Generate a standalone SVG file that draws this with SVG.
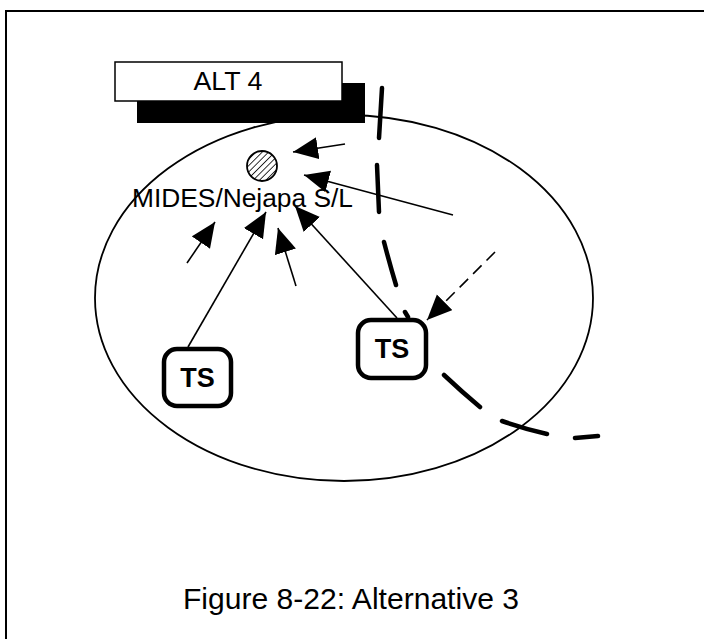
<svg xmlns="http://www.w3.org/2000/svg" width="704" height="639" viewBox="0 0 704 639">
<style>
.t{font-family:"Liberation Sans",Arial,sans-serif;fill:#000}
.arr{stroke:#000;stroke-width:1.6;fill:none;marker-end:url(#ah)}
.ts{fill:#fff;stroke:#000;stroke-width:4.5}
</style>
<defs>
<marker id="ah" markerUnits="userSpaceOnUse" markerWidth="27" markerHeight="24" refX="25" refY="11" orient="auto">
<path d="M0,0 L25,11 L0,22 z" fill="#000"/>
</marker>
<pattern id="hatch" patternUnits="userSpaceOnUse" width="4.5" height="4.5" patternTransform="rotate(45)">
<rect width="4.5" height="4.5" fill="#fff"/>
<line x1="0" y1="0" x2="0" y2="4.5" stroke="#000" stroke-width="1.6"/>
</pattern>
</defs>
<rect x="6" y="11" width="720" height="660" fill="#fff" stroke="#000" stroke-width="2"/>
<ellipse id="area" cx="344" cy="298" rx="249" ry="183" fill="none" stroke="#000" stroke-width="1.8"/>
<g id="alt4">
<rect x="137" y="83" width="228" height="40" fill="#000"/>
<rect x="115" y="62" width="227" height="39" fill="#fff" stroke="#000" stroke-width="1.5"/>
<text class="t" x="228" y="90" font-size="25" text-anchor="middle" textLength="69" lengthAdjust="spacingAndGlyphs">ALT 4</text>
</g>
<g id="boundary">
<path d="M382,88 L379,138 M377,165 L379,212 M384,242 Q390,265 396,285 M405,312 L408,317 M444,375 Q462,392 480,407 M502,421 Q525,429 547,434 M575,438 L598,436" fill="none" stroke="#000" stroke-width="4.5" stroke-linecap="round"/>
</g>
<g id="connectors">
<line class="arr" x1="345" y1="144" x2="293" y2="152"/>
<line class="arr" x1="453" y1="215" x2="304" y2="175"/>
<line class="arr" x1="187" y1="263" x2="215" y2="222"/>
<line class="arr" x1="188" y1="347" x2="266" y2="212"/>
<line class="arr" x1="296" y1="286" x2="278" y2="228"/>
<line class="arr" x1="397" y1="318" x2="295" y2="206"/>
<line class="arr" x1="495" y1="252" x2="427" y2="320" stroke-dasharray="12 7"/>
</g>
<g id="mides">
<circle cx="262" cy="166" r="15" fill="url(#hatch)" stroke="#000" stroke-width="1.8"/>
<text class="t" x="132" y="207" font-size="26" textLength="221" lengthAdjust="spacingAndGlyphs">MIDES/Nejapa S/L</text>
</g>
<g id="ts1">
<rect class="ts" x="164" y="349" width="67" height="57" rx="13"/>
<text class="t" x="197.5" y="387" font-size="27" font-weight="bold" text-anchor="middle">TS</text>
</g>
<g id="ts2">
<rect class="ts" x="358" y="320" width="68" height="58" rx="13"/>
<text class="t" x="392" y="358" font-size="27" font-weight="bold" text-anchor="middle">TS</text>
</g>
<text id="caption" class="t" x="183" y="609" font-size="30" textLength="336" lengthAdjust="spacingAndGlyphs">Figure 8-22: Alternative 3</text>
</svg>
